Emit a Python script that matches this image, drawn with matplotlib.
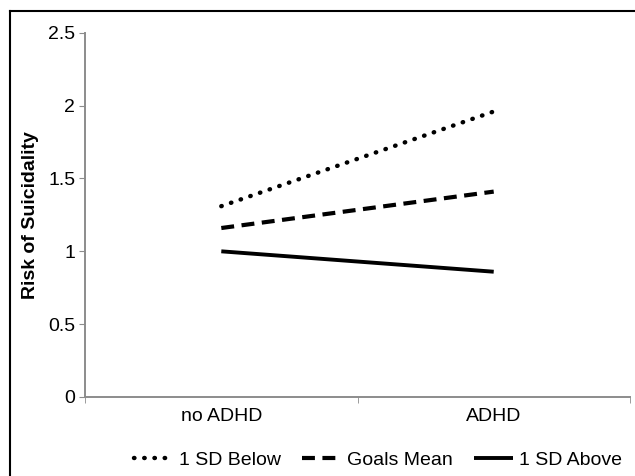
import matplotlib
matplotlib.use("Agg")
import matplotlib.pyplot as plt
from matplotlib.lines import Line2D

plt.rcParams['font.family'] = ['Liberation Sans', 'DejaVu Sans']

categories = ["no ADHD", "ADHD"]
series_names = ["1 SD Below", "Goals Mean", "1 SD Above"]
sd_below = [1.31, 1.96]
goals_mean = [1.16, 1.41]
sd_above = [1.00, 0.86]
yticks = [0, 0.5, 1, 1.5, 2, 2.5]
ytick_labels = ["0", "0.5", "1", "1.5", "2", "2.5"]

FS = 14

fig = plt.figure(figsize=(6.35, 4.76), dpi=100)
ax = fig.add_axes([0.134, 0.166, 0.858, 0.765])

x = list(range(len(categories)))
styles = [
    dict(linestyle=(0, (0.1, 2.2)), dash_capstyle='round', linewidth=3.2),
    dict(linestyle=(0, (3.1, 1.8)), linewidth=3.0),
    dict(linestyle='-', linewidth=2.8),
]
for vals, name, st in zip([sd_below, goals_mean, sd_above], series_names, styles):
    ax.plot(x, vals, color='black', label=name, solid_capstyle='butt', **st)

ax.set_xlim(-0.5, len(categories) - 0.5)
ax.set_ylim(0, 2.5)
ax.set_yticks(yticks)
ax.set_yticklabels(ytick_labels)
ax.set_xticks(x)
ax.set_xticklabels(categories)
ax.set_xticks([-0.5, 0.5, 1.5], minor=True)
ax.tick_params(axis='x', which='major', length=0, pad=8, labelsize=FS)
ax.tick_params(axis='x', which='minor', length=4, color='#8c8c8c', direction='out')
ax.tick_params(axis='y', length=4, color='#8c8c8c', direction='out', labelsize=FS, pad=3)

for s in ['top', 'right']:
    ax.spines[s].set_visible(False)
for s in ['left', 'bottom']:
    ax.spines[s].set_color('#8c8c8c')
    ax.spines[s].set_linewidth(1.4)

ax.set_ylabel("Risk of Suicidality", fontweight='bold', fontsize=FS)
ax.yaxis.label.set_va('center')
ax.yaxis.set_label_coords((30 - 85) / 545, (397 - 215) / 364)

leg = fig.legend(loc='center', bbox_to_anchor=(0.595, 0.034), ncol=3, frameon=False,
                 fontsize=FS, handlelength=2.0, columnspacing=1.1, handletextpad=0.3)

# outer frame: only top and left edges are visible in the reference (cropped)
x0, y0 = 10 / 635, 1 - 10.5 / 476
fig.add_artist(Line2D([x0, x0], [0, y0], transform=fig.transFigure, color='black', linewidth=1.5))
fig.add_artist(Line2D([x0, 1], [y0, y0], transform=fig.transFigure, color='black', linewidth=1.5))

fig.savefig("out.png", dpi=100)
